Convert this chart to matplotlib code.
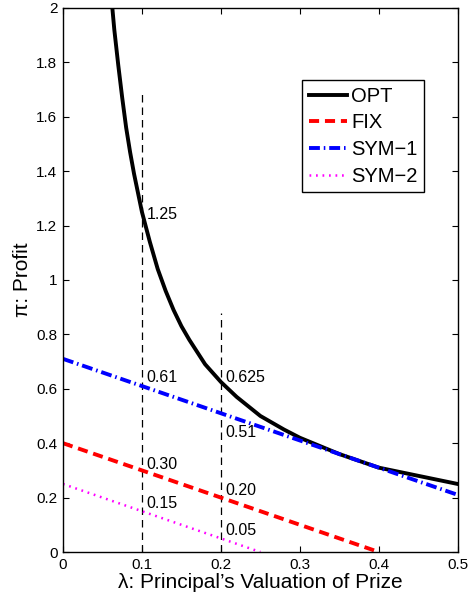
import matplotlib
matplotlib.use("Agg")
import matplotlib.pyplot as plt

plt.rcParams['font.family'] = ['Liberation Sans', 'DejaVu Sans']

# Data
opt_x = [0.06, 0.065, 0.07, 0.075, 0.08, 0.085, 0.09, 0.095, 0.10, 0.11, 0.12, 0.13,
         0.14, 0.15, 0.16, 0.18, 0.20, 0.22, 0.25, 0.28, 0.30, 0.35, 0.40, 0.45, 0.50]
opt_y = [2.08, 1.92, 1.79, 1.67, 1.56, 1.47, 1.39, 1.32, 1.25, 1.14, 1.04, 0.96,
         0.89, 0.83, 0.78, 0.69, 0.625, 0.57, 0.50, 0.45, 0.42, 0.36, 0.31, 0.28, 0.25]
fix_x = [0.0, 0.40]
fix_y = [0.40, 0.0]
sym1_x = [0.0, 0.50]
sym1_y = [0.71, 0.21]
sym2_x = [0.0, 0.25]
sym2_y = [0.25, 0.0]

vline_x = [0.1, 0.2]
vline_top = [1.69, 0.88]

annot_x = [0.1, 0.1, 0.1, 0.1, 0.2, 0.2, 0.2, 0.2]
annot_y = [1.24, 0.64, 0.32, 0.18, 0.64, 0.44, 0.225, 0.08]
annot_text = ['1.25', '0.61', '0.30', '0.15', '0.625', '0.51', '0.20', '0.05']

fig = plt.figure(figsize=(4.70, 5.94), dpi=100)
ax = fig.add_axes([0.134, 0.0707, 0.840, 0.916])

for x, t in zip(vline_x, vline_top):
    ax.plot([x, x], [0, t], color='black', lw=0.9, linestyle=(0, (6, 4)))

ax.plot(opt_x, opt_y, color='black', lw=2.8, label='OPT')
ax.plot(fix_x, fix_y, color='red', lw=2.8, linestyle=(0, (2.6, 1.5)), label='FIX')
ax.plot(sym1_x, sym1_y, color='blue', lw=2.8, linestyle=(0, (2.8, 1.0, 0.4, 1.0)), label='SYM\u22121')
ax.plot(sym2_x, sym2_y, color='#ff00ff', lw=1.8, linestyle=(0, (0.7, 1.9)), label='SYM\u22122')

for x, y, t in zip(annot_x, annot_y, annot_text):
    ax.text(x + 0.006, y, t, fontsize=11.5, va='center', ha='left')

ax.set_xlim(0, 0.5)
ax.set_ylim(0, 2)
ax.set_xticks([0, 0.1, 0.2, 0.3, 0.4, 0.5])
ax.set_xticklabels(['0', '0.1', '0.2', '0.3', '0.4', '0.5'])
ax.set_yticks([0, 0.2, 0.4, 0.6, 0.8, 1.0, 1.2, 1.4, 1.6, 1.8, 2.0])
ax.set_yticklabels(['0', '0.2', '0.4', '0.6', '0.8', '1', '1.2', '1.4', '1.6', '1.8', '2'])
ax.tick_params(direction='in', top=True, right=True, length=4, labelsize=11, width=0.8, pad=4)
for s in ax.spines.values():
    s.set_linewidth(1.0)

ax.set_xlabel('\u03bb: Principal\u2019s Valuation of Prize', fontsize=15, labelpad=1)
ax.set_ylabel('\u03c0: Profit', fontsize=15, labelpad=3)

leg = ax.legend(loc='upper left', fontsize=14.5,
                frameon=True, fancybox=False, edgecolor='black', framealpha=1,
                handlelength=1.9, handletextpad=0.2, labelspacing=0.38,
                borderpad=0.33, borderaxespad=0)
leg.get_frame().set_linewidth(1.0)
leg.set_bbox_to_anchor((302 / 470, 1 - 80 / 594), transform=fig.transFigure)

fig.savefig('out.png', dpi=100)
